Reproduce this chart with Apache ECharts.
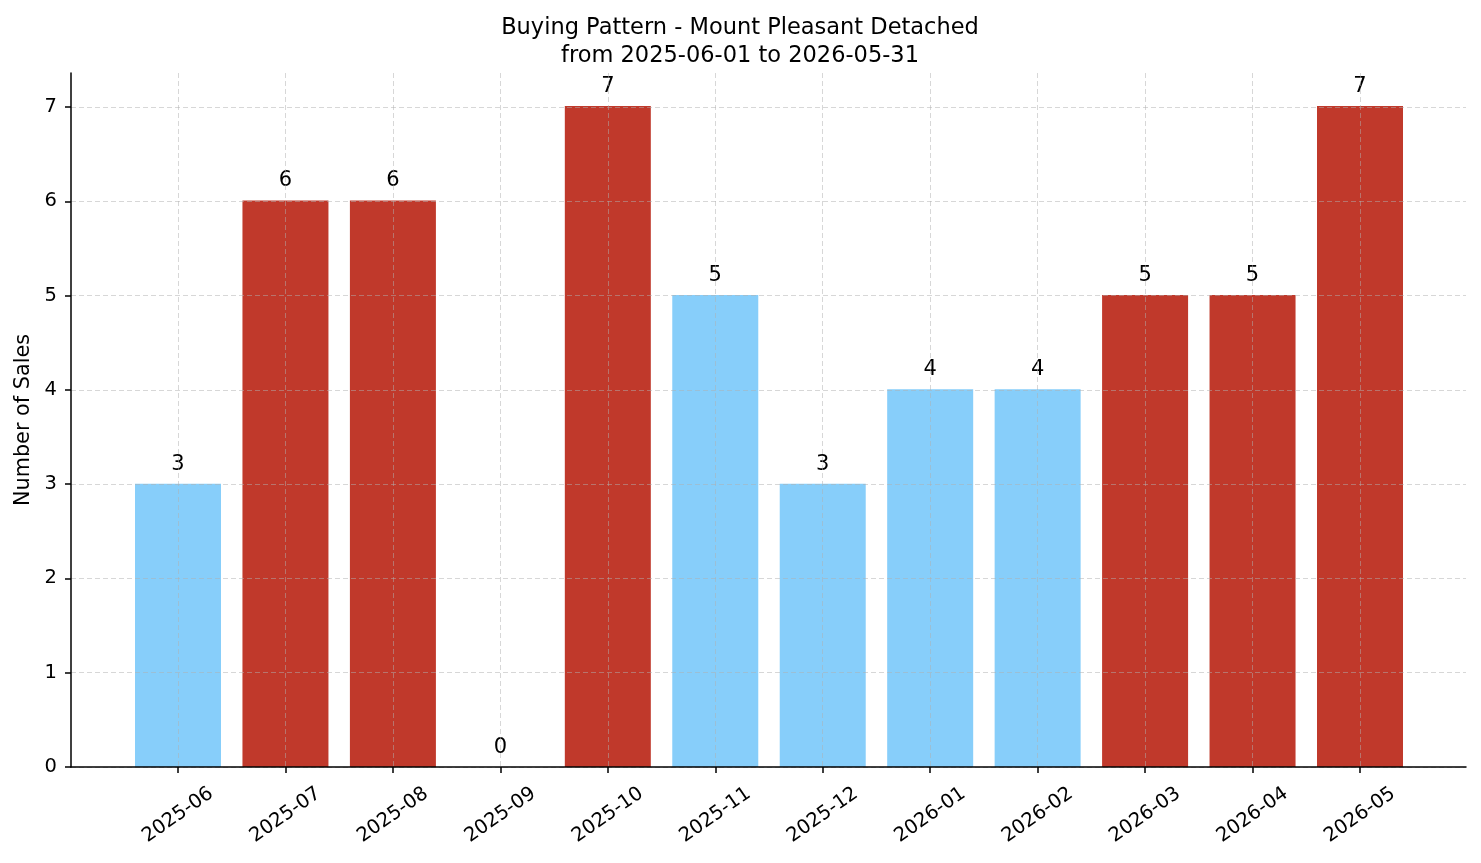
<!DOCTYPE html>
<html>
<head>
<meta charset="utf-8">
<script src="https://cdn.jsdelivr.net/npm/echarts@6/dist/echarts.min.js"></script>
<style>
html,body{margin:0;padding:0;background:#ffffff;}
#chart{width:1481px;height:863px;}
</style>
</head>
<body>
<div id="chart"></div>
<script>
// ---- data ----
const months = ['2025-06','2025-07','2025-08','2025-09','2025-10','2025-11','2025-12','2026-01','2026-02','2026-03','2026-04','2026-05'];
const sales = [3, 6, 6, 0, 7, 5, 3, 4, 4, 5, 5, 7];
const marketState = ['normal','hot','hot','normal','hot','normal','normal','normal','normal','hot','hot','hot'];
const yTickMax = 7;
const yAxisMax = 7.35;
const titleLines = ['Buying Pattern - Mount Pleasant Detached', 'from 2025-06-01 to 2026-05-31'];
const yAxisTitle = 'Number of Sales';

// ---- styles ----
const FONT = 'DejaVu Sans';
const stateColors = { hot: '#C0392B', normal: '#87CEFA' };
const spine = { color: '#000000', width: 1.5 };
const gridLine = { color: 'rgba(176,176,176,0.5)', width: 1, type: [5, 3] };

const chart = echarts.init(document.getElementById('chart'), null, { renderer: 'canvas' });

const option = {
  animation: false,
  backgroundColor: '#ffffff',
  textStyle: { fontFamily: FONT },
  title: {
    text: titleLines.join('\n'),
    left: 735,
    top: 9,
    textAlign: 'center',
    textStyle: { fontFamily: FONT, fontSize: 22.5, fontWeight: 'normal', color: '#000000', lineHeight: 28 }
  },
  grid: [
    { left: 71, right: 15, top: 73, bottom: 96 },   // spines
    { left: 71, right: 15, top: 107, bottom: 96 },  // y ticks / horizontal grid
    { left: 178, right: 121, top: 73, bottom: 96 }  // bars
  ],
  xAxis: [
    { gridIndex: 0, type: 'value', min: 0, max: 1, z: 5,
      axisLine: { show: true, onZero: false, lineStyle: spine },
      axisTick: { show: false }, axisLabel: { show: false }, splitLine: { show: false } },
    { gridIndex: 1, type: 'value', min: 0, max: 1, show: false },
    { gridIndex: 2, type: 'category', data: months, boundaryGap: false, z: 3,
      axisLine: { show: false },
      axisTick: { show: true, length: 6, lineStyle: spine },
      axisLabel: { interval: 0, rotate: 35, align: 'center', verticalAlign: 'middle', margin: 48,
                   fontSize: 19.5, color: '#000000', fontFamily: FONT },
      splitLine: { show: true, lineStyle: gridLine } }
  ],
  yAxis: [
    { gridIndex: 0, type: 'value', min: 0, max: yAxisMax, z: 5,
      axisLine: { show: true, onZero: false, lineStyle: spine },
      axisTick: { show: false }, axisLabel: { show: false }, splitLine: { show: false },
      name: yAxisTitle, nameLocation: 'middle', nameGap: 37, nameRotate: 90,
      nameTextStyle: { fontFamily: FONT, fontSize: 20.8, color: '#000000' } },
    { gridIndex: 1, type: 'value', min: 0, max: yTickMax, interval: 1, z: 3,
      axisLine: { show: false },
      axisTick: { show: true, length: 6, lineStyle: spine },
      axisLabel: { margin: 14, fontSize: 19.5, color: '#000000', fontFamily: FONT },
      splitLine: { show: true, lineStyle: gridLine } },
    { gridIndex: 2, type: 'value', min: 0, max: yAxisMax, show: false }
  ],
  series: [{
    type: 'bar',
    xAxisIndex: 2,
    yAxisIndex: 2,
    barWidth: 86,
    clip: false,
    z: 2,
    data: sales.map((v, i) => ({ value: v, itemStyle: { color: stateColors[marketState[i]] } })),
    label: {
      show: true, position: 'top', distance: 9,
      fontFamily: FONT, fontSize: 21, color: '#000000'
    }
  }]
};
chart.setOption(option);
</script>
</body>
</html>
